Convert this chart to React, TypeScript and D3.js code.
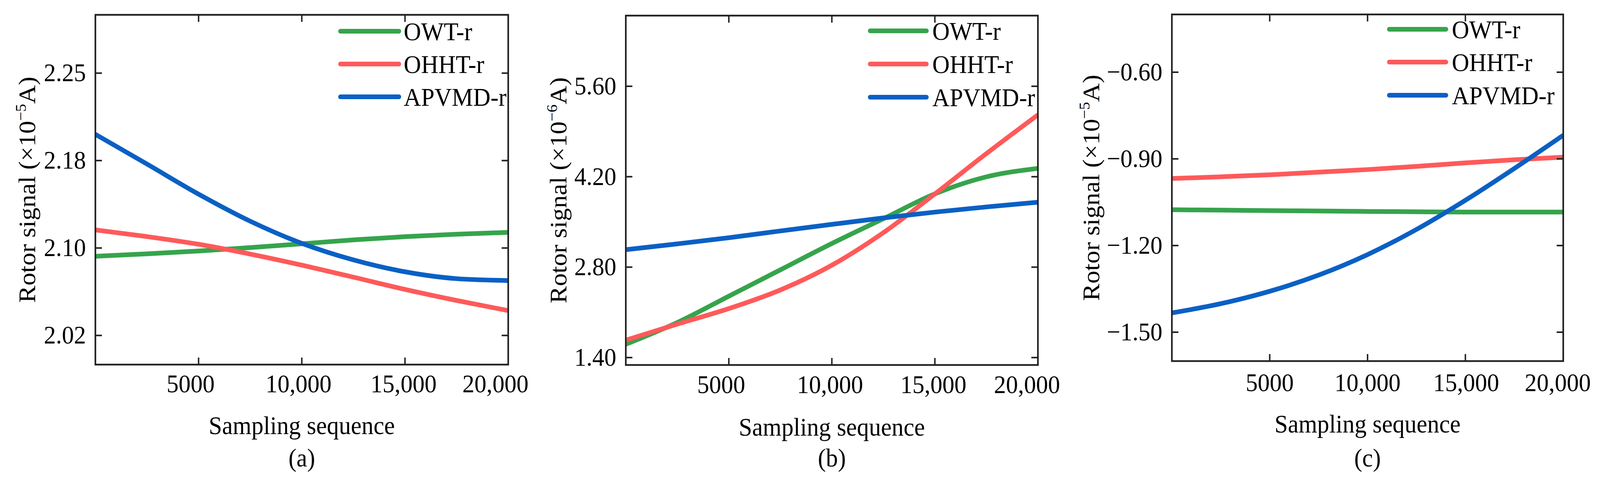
import React from "react";
import * as d3 from "d3";

// ---------- data ----------
const xSamples = [0, 2500, 5000, 7500, 10000, 12500, 15000, 17500, 20000];
const xTicks = [5000, 10000, 15000, 20000];
const xTickLabels = ["5000", "10,000", "15,000", "20,000"];
const seriesNames = ["OWT-r", "OHHT-r", "APVMD-r"];

// panel (a)
const owtA = [2.0929, 2.095, 2.0974, 2.1004, 2.1036, 2.107, 2.1097, 2.1118, 2.1134];
const ohhtA = [2.1155, 2.1098, 2.1032, 2.0948, 2.0853, 2.075, 2.0645, 2.055, 2.0463];
const apvmdA = [2.1975, 2.172, 2.1462, 2.123, 2.104, 2.0898, 2.0796, 2.0737, 2.0721];
const yTicksA = [2.025, 2.1, 2.175, 2.25];
const yTickLabelsA = ["2.02", "2.10", "2.18", "2.25"];
const yDomainA = [2.0, 2.3];

// panel (b)
const owtB = [1.606, 1.942, 2.35, 2.758, 3.166, 3.55, 3.934, 4.198, 4.328];
const ohhtB = [1.669, 1.918, 2.158, 2.446, 2.83, 3.334, 3.934, 4.558, 5.158];
const apvmdB = [3.07, 3.16, 3.255, 3.36, 3.462, 3.562, 3.652, 3.732, 3.805];
const yTicksB = [1.4, 2.8, 4.2, 5.6];
const yTickLabelsB = ["1.40", "2.80", "4.20", "5.60"];
const yDomainB = [1.285, 6.694];

// panel (c)
const owtC = [-1.076, -1.0775, -1.079, -1.0805, -1.082, -1.083, -1.084, -1.084, -1.084];
const ohhtC = [-0.968, -0.962, -0.955, -0.946, -0.937, -0.926, -0.914, -0.903, -0.894];
const apvmdC = [-1.4333, -1.4013, -1.3583, -1.3023, -1.2313, -1.1443, -1.0433, -0.9333, -0.8183];
const yTicksC = [-1.5, -1.2, -0.9, -0.6];
const yTickLabelsC = ["\u22121.50", "\u22121.20", "\u22120.90", "\u22120.60"];
const yDomainC = [-1.6, -0.4];

// ---------- style ----------
const COLORS = ["#36a44c", "#ff5a5a", "#0a60c4"];
const FONT = "'Liberation Serif', 'Times New Roman', serif";
const FS = 66;
const AXIS_COLOR = "#222";
const W = 4395;
const H = 1245;

type PanelCfg = {
  series: number[][];
  yDomain: number[];
  yTicks: number[];
  yTickLabels: string[];
  exp: string;
  tag: string;
  left: number;
  right: number;
  top: number;
  bottom: number;
  yLabelX: number;
  xLabelOffsets: number[];
  xTickLabelY: number;
  xTitleY: number;
  legend: { x1: number; x2: number; tx: number; dy: number[] };
};

const panels: PanelCfg[] = [
  {
    series: [owtA, ohhtA, apvmdA],
    yDomain: yDomainA,
    yTicks: yTicksA,
    yTickLabels: yTickLabelsA,
    exp: "\u22125",
    tag: "(a)",
    left: 262,
    right: 1396,
    top: 38,
    bottom: 934,
    yLabelX: 97,
    xLabelOffsets: [-22, -9, -4, -35],
    xTickLabelY: 1005,
    xTitleY: 1112,
    legend: { x1: -461, x2: -300, tx: -287, dy: [42, 126, 210] },
  },
  {
    series: [owtB, ohhtB, apvmdB],
    yDomain: yDomainB,
    yTicks: yTicksB,
    yTickLabels: yTickLabelsB,
    exp: "\u22126",
    tag: "(b)",
    left: 1719,
    right: 2851,
    top: 40,
    bottom: 935,
    yLabelX: 1556,
    xLabelOffsets: [-21, -5, -4, -30],
    xTickLabelY: 1007,
    xTitleY: 1116,
    legend: { x1: -461, x2: -306, tx: -290, dy: [39, 124, 209] },
  },
  {
    series: [owtC, ohhtC, apvmdC],
    yDomain: yDomainC,
    yTicks: yTicksC,
    yTickLabels: yTickLabelsC,
    exp: "\u22125",
    tag: "(c)",
    left: 3219,
    right: 4294,
    top: 37,
    bottom: 925,
    yLabelX: 3019,
    xLabelOffsets: [0, 0, 2, -15],
    xTickLabelY: 1002,
    xTitleY: 1108,
    legend: { x1: -478, x2: -322, tx: -306, dy: [38, 122, 207] },
  },
];

const TICK = 18;

if (typeof document !== "undefined") {
  document.documentElement.style.overflow = "hidden";
  document.body.style.overflow = "hidden";
  document.body.style.margin = "0";
}

function Panel({ p, idx }: { p: PanelCfg; idx: number }) {
  const x = d3.scaleLinear().domain([0, 20000]).range([p.left, p.right]);
  const y = d3.scaleLinear().domain(p.yDomain).range([p.bottom, p.top]);
  const line = d3
    .line<number>()
    .x((_, i) => x(xSamples[i]))
    .y((d) => y(d))
    .curve(d3.curveMonotoneX);
  const clipId = `clip-${idx}`;
  const midY = (p.top + p.bottom) / 2;
  const midX = (p.left + p.right) / 2;
  return (
    <g>
      <defs>
        <clipPath id={clipId}>
          <rect x={p.left} y={p.top} width={p.right - p.left} height={p.bottom - p.top} />
        </clipPath>
      </defs>
      <g clipPath={`url(#${clipId})`}>
        {p.series.map((s, i) => (
          <path key={i} d={line(s) || ""} fill="none" stroke={COLORS[i]} strokeWidth={12} />
        ))}
      </g>
      <g stroke={AXIS_COLOR} strokeWidth={4}>
        {xTicks.map((t, i) => (
          <g key={i}>
            <line x1={x(t)} x2={x(t)} y1={p.bottom} y2={p.bottom - TICK} />
            <line x1={x(t)} x2={x(t)} y1={p.top} y2={p.top + TICK} />
          </g>
        ))}
        {p.yTicks.map((t, i) => (
          <g key={i}>
            <line x1={p.left} x2={p.left + TICK} y1={y(t)} y2={y(t)} />
            <line x1={p.right} x2={p.right - TICK} y1={y(t)} y2={y(t)} />
          </g>
        ))}
      </g>
      <rect
        x={p.left}
        y={p.top}
        width={p.right - p.left}
        height={p.bottom - p.top}
        fill="none"
        stroke={AXIS_COLOR}
        strokeWidth={4.5}
      />
      <g fontFamily={FONT} fontSize={FS} fill="#000">
        {xTicks.map((t, i) => (
          <text key={i} x={x(t) + p.xLabelOffsets[i]} y={p.xTickLabelY} textAnchor="middle">
            {xTickLabels[i]}
          </text>
        ))}
        {p.yTicks.map((t, i) => (
          <text key={i} x={p.left - 26} y={y(t) + 21} textAnchor="end">
            {p.yTickLabels[i]}
          </text>
        ))}
        <text x={midX} y={p.xTitleY} textAnchor="middle">
          Sampling sequence
        </text>
        <text x={midX} y={1195} textAnchor="middle">
          {p.tag}
        </text>
        <text transform={`translate(${p.yLabelX},${midY}) rotate(-90)`} textAnchor="middle">
          Rotor signal (×10
          <tspan fontSize={FS * 0.62} dy={-26}>
            {p.exp}
          </tspan>
          <tspan dy={26}>A)</tspan>
        </text>
      </g>
      <g>
        {seriesNames.map((n, i) => (
          <g key={n}>
            <line
              x1={p.right + p.legend.x1}
              x2={p.right + p.legend.x2}
              y1={p.top + p.legend.dy[i]}
              y2={p.top + p.legend.dy[i]}
              stroke={COLORS[i]}
              strokeWidth={12}
              strokeLinecap="round"
            />
            <text
              x={p.right + p.legend.tx}
              y={p.top + p.legend.dy[i] + 23}
              fontFamily={FONT}
              fontSize={FS}
              fill="#000"
            >
              {n}
            </text>
          </g>
        ))}
      </g>
    </g>
  );
}

export default function App() {
  return (
    <svg
      viewBox={`0 0 ${W} ${H}`}
      preserveAspectRatio="none"
      style={{
        position: "fixed",
        left: 0,
        top: 0,
        width: "100vw",
        height: "100vh",
        display: "block",
        background: "#fff",
      }}
    >
      <rect x={0} y={0} width={W} height={H} fill="#fff" />
      {panels.map((p, i) => (
        <Panel key={i} p={p} idx={i} />
      ))}
    </svg>
  );
}
